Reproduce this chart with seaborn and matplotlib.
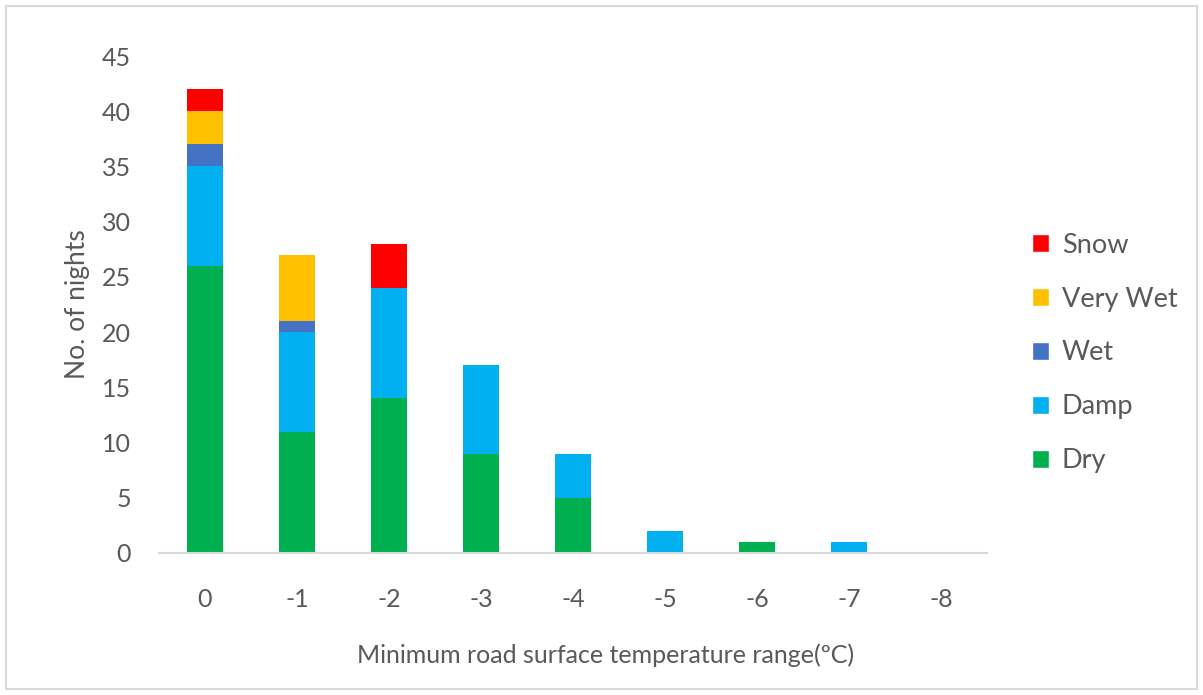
import numpy as np
import pandas as pd
import matplotlib
matplotlib.use('Agg')
import matplotlib.pyplot as plt
import seaborn as sns
from matplotlib.patches import Patch, Rectangle

# data
temps = ['0', '-1', '-2', '-3', '-4', '-5', '-6', '-7', '-8']
dry = [26, 11, 14, 9, 5, 0, 1, 0, 0]
damp = [9, 9, 10, 8, 4, 2, 0, 1, 0]
wet = [2, 1, 0, 0, 0, 0, 0, 0, 0]
very_wet = [3, 6, 0, 0, 0, 0, 0, 0, 0]
snow = [2, 0, 4, 0, 0, 0, 0, 0, 0]

series = [('Dry', dry, '#00B050'),
          ('Damp', damp, '#00B0F0'),
          ('Wet', wet, '#4472C4'),
          ('Very Wet', very_wet, '#FFC000'),
          ('Snow', snow, '#FF0000')]

sns.set_style('white')
plt.rcParams['font.family'] = ['Lato', 'DejaVu Sans']
txt = '#595959'

fig = plt.figure(figsize=(12.03, 6.95), dpi=100)
ax = fig.add_axes([159/1203, 1-553/695, (987-159)/1203, (553-56)/695])

bottom = np.zeros(len(temps))
for name, vals, col in series:
    sns.barplot(x=temps, y=vals, order=temps, bottom=bottom, color=col,
                width=0.4, linewidth=0, saturation=1, ax=ax)
    bottom = bottom + np.array(vals)

ax.set_ylim(0, 45)
ax.set_xlim(-0.5, len(temps) - 0.5)
ax.set_yticks(range(0, 46, 5))
for s in ['top', 'right', 'left']:
    ax.spines[s].set_visible(False)
ax.spines['bottom'].set_color('#d9d9d9')
ax.spines['bottom'].set_linewidth(1.5)
ax.tick_params(axis='both', length=0, labelsize=18, colors=txt)
ax.tick_params(axis='y', pad=20)
ax.tick_params(axis='x', pad=25)
ax.set_xlabel('Minimum road surface temperature range(ºC)', fontsize=18, color=txt, va='center')
ax.set_ylabel('No. of nights', fontsize=19, color=txt, va='center')
ax.xaxis.set_label_coords((606-159)/828, -(655-553)/497)
ax.yaxis.set_label_coords((78-159)/828, 0.5)

handles = [Patch(facecolor=c, label=n) for n, v, c in series][::-1]
leg = fig.legend(handles=handles, loc='center left', bbox_to_anchor=(1008/1203, 1-353/695),
                 frameon=False, fontsize=19.5, labelcolor=txt, handlelength=0.63,
                 handleheight=0.63, handletextpad=0.45, labelspacing=1.07)

fig.patches.append(Rectangle((6/1203, 6/695), 1191/1203, 683/695, transform=fig.transFigure,
                             fill=False, edgecolor='#d9d9d9', linewidth=1.5))

fig.savefig('out.png', dpi=100)
